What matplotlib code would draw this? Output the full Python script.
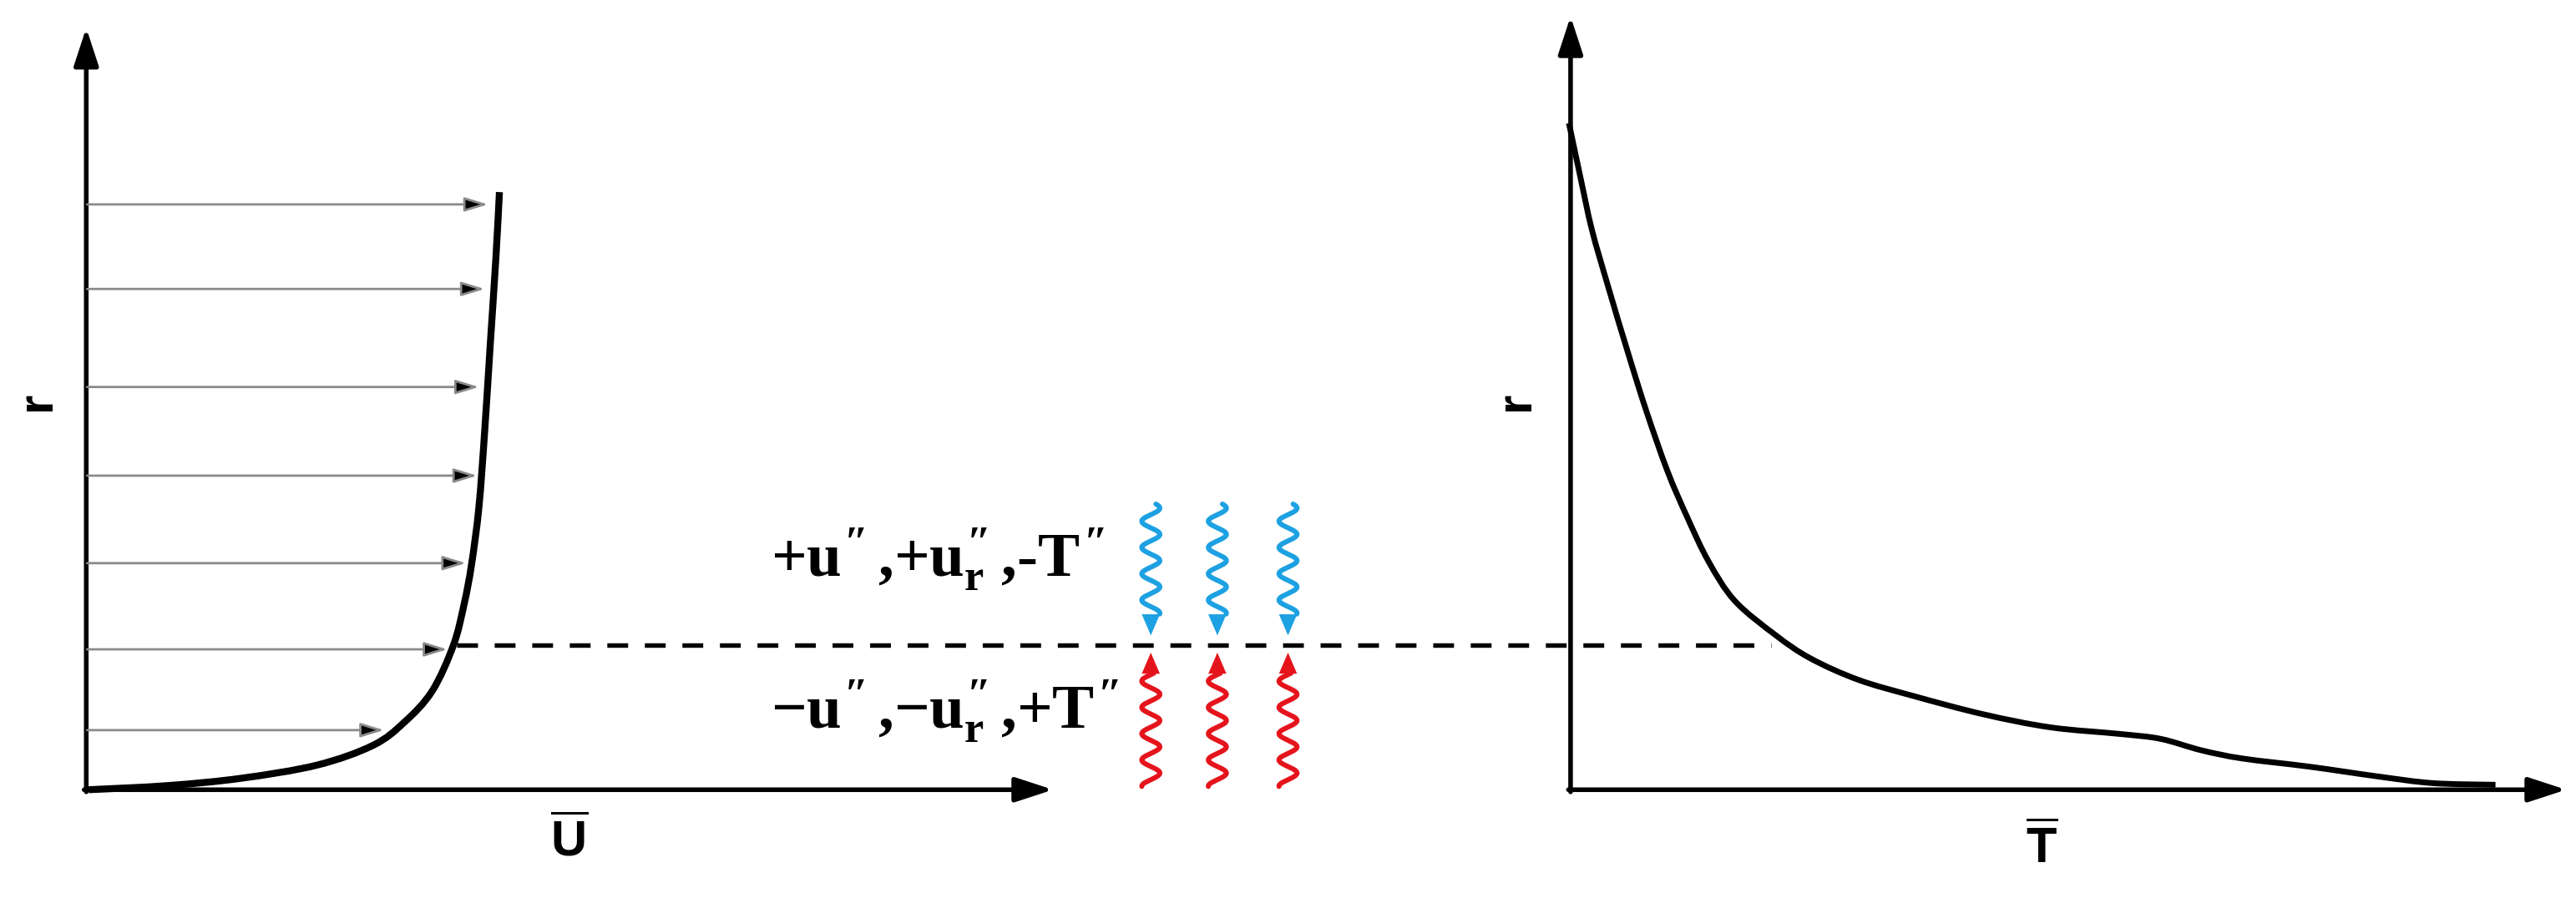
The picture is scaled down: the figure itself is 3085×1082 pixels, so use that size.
import numpy as np
import matplotlib
matplotlib.use("Agg")
import matplotlib.pyplot as plt
from matplotlib.path import Path
from matplotlib.patches import PathPatch

plt.rcParams['mathtext.fontset'] = 'custom'
plt.rcParams['mathtext.rm'] = 'Liberation Serif:bold'
plt.rcParams['mathtext.it'] = 'Liberation Serif:bold'
plt.rcParams['mathtext.bf'] = 'Liberation Serif:bold'
plt.rcParams['mathtext.sf'] = 'Liberation Sans:bold'

# ---- data (diagram coordinates, y grows downward) ----
# left panel: mean velocity profile U(r)
U_profile_x = [54, 102, 147, 193, 227, 246, 263, 276, 282.5, 287, 291.5, 295, 298.4, 301.8, 304]
U_profile_r = [481, 478.5, 474, 466, 454, 440, 421, 393, 368, 344, 309, 263, 210, 158, 117]
# velocity vectors (height, tip)
vec_r = [124.5, 176, 235.7, 289.7, 343, 395.5, 444.7]
vec_tip = [297, 295, 291.5, 290.4, 283.6, 272.3, 233.7]
# right panel: mean temperature profile T(r)
T_profile_x = [955, 962, 969, 979, 991, 1002, 1015, 1027, 1040, 1056, 1081, 1102, 1131, 1165,
               1207, 1248, 1290, 1315, 1340, 1365, 1406, 1448, 1481, 1519]
T_profile_r = [75, 108, 140, 175, 215, 250, 287, 315, 342, 366, 387, 401, 414, 424,
               435, 443, 447, 450, 457, 462, 467, 473, 477, 478]

interface_r = 393
interface_x = [278, 1078]
eddy_x = [700.5, 741, 784]

Q = '\u2033'
label_up = '${+}u^{' + Q + '}\\,{,}{+}u_{r}^{' + Q + '}\\,{,}\u2010T^{' + Q + '}$'
label_dn = '${\u2212}u^{' + Q + '}\\,{,}{\u2212}u_{r}^{' + Q + '}\\,{,}{+}T^{' + Q + '}$'


def smooth_path(xs, ys):
    """Catmull-Rom spline through the points, drawn as cubic Bezier segments."""
    p = np.column_stack([xs, ys]).astype(float)
    verts = [p[0]]
    codes = [Path.MOVETO]
    n = len(p)
    for i in range(n - 1):
        p0 = p[i - 1] if i > 0 else p[i]
        p1 = p[i]
        p2 = p[i + 1]
        p3 = p[i + 2] if i + 2 < n else p[i + 1]
        c1 = p1 + (p2 - p0) / 6.0
        c2 = p2 - (p3 - p1) / 6.0
        verts += [c1, c2, p2]
        codes += [Path.CURVE4] * 3
    return Path(verts, codes)


fig = plt.figure(figsize=(30.85, 10.82), dpi=100)
ax = fig.add_axes([0, 0, 1, 1])
ax.set_xlim(0, 1568)
ax.set_ylim(550, 0)
ax.axis('off')

axis_style = dict(arrowstyle='-|>,head_length=0.55,head_width=0.18', lw=4, color='black',
                  mutation_scale=50, shrinkA=0, shrinkB=0)
# left axes
ax.annotate('', xy=(52.5, 17), xytext=(52.5, 482.3), arrowprops=axis_style)
ax.annotate('', xy=(641, 481), xytext=(51.2, 481), arrowprops=axis_style)
# right axes
ax.annotate('', xy=(956, 10), xytext=(956, 482.3), arrowprops=axis_style)
ax.annotate('', xy=(1562, 481), xytext=(954.7, 481), arrowprops=axis_style)

# velocity vectors
for r, tip in zip(vec_r, vec_tip):
    ax.annotate('', xy=(tip, r), xytext=(53, r),
                arrowprops=dict(arrowstyle='-|>,head_length=0.65,head_width=0.2',
                                lw=2.0, edgecolor='#8a8a8a', facecolor='black',
                                mutation_scale=26, shrinkA=0, shrinkB=0))

ax.add_patch(PathPatch(smooth_path(U_profile_x, U_profile_r), facecolor='none',
                       edgecolor='black', lw=6, capstyle='butt', joinstyle='round'))
ax.add_patch(PathPatch(smooth_path(T_profile_x, T_profile_r), facecolor='none',
                       edgecolor='black', lw=5, capstyle='butt', joinstyle='round'))

ax.plot(interface_x, [interface_r, interface_r], color='black', lw=3.9, dashes=(4.6, 3.7))

# wavy eddy arrows
A = 5.5
lam = 16.0
blue = '#1DA1E2'
red = '#E5141C'
for x0 in eddy_x:
    yb = np.linspace(307, 374, 300)
    xb = x0 + A * np.sin(2 * np.pi * (yb - 307) / lam + 0.6)
    ax.plot(xb, yb, color=blue, lw=4.3, solid_capstyle='round')
    ax.annotate('', xy=(x0, 387), xytext=(x0, 373),
                arrowprops=dict(arrowstyle='-|>,head_length=0.7,head_width=0.3', lw=0,
                                color=blue, mutation_scale=26, shrinkA=0, shrinkB=0))
    yr = np.linspace(410, 479, 300)
    xr = x0 + A * np.sin(2 * np.pi * (yr - 410) / lam + 2.8)
    ax.plot(xr, yr, color=red, lw=4.3, solid_capstyle='round')
    ax.annotate('', xy=(x0, 397.5), xytext=(x0, 411),
                arrowprops=dict(arrowstyle='-|>,head_length=0.7,head_width=0.3', lw=0,
                                color=red, mutation_scale=26, shrinkA=0, shrinkB=0))

ax.text(469, 351.5, label_up, fontsize=54, ha='left', va='baseline', color='black')
ax.text(469, 444, label_dn, fontsize=54, ha='left', va='baseline', color='black')

ax.text(22.6, 244, 'r', fontsize=43, fontweight='bold', family='Liberation Sans',
        rotation=90, ha='center', va='center')
ax.text(923, 244, 'r', fontsize=43, fontweight='bold', family='Liberation Sans',
        rotation=90, ha='center', va='center')
ax.text(346.5, 512.5, r'$\overline{\mathsf{U}}$', fontsize=43, ha='center', va='center')
ax.text(1243, 517, r'$\overline{\mathsf{T}}$', fontsize=43, ha='center', va='center')

fig.savefig('out.png', dpi=100)
